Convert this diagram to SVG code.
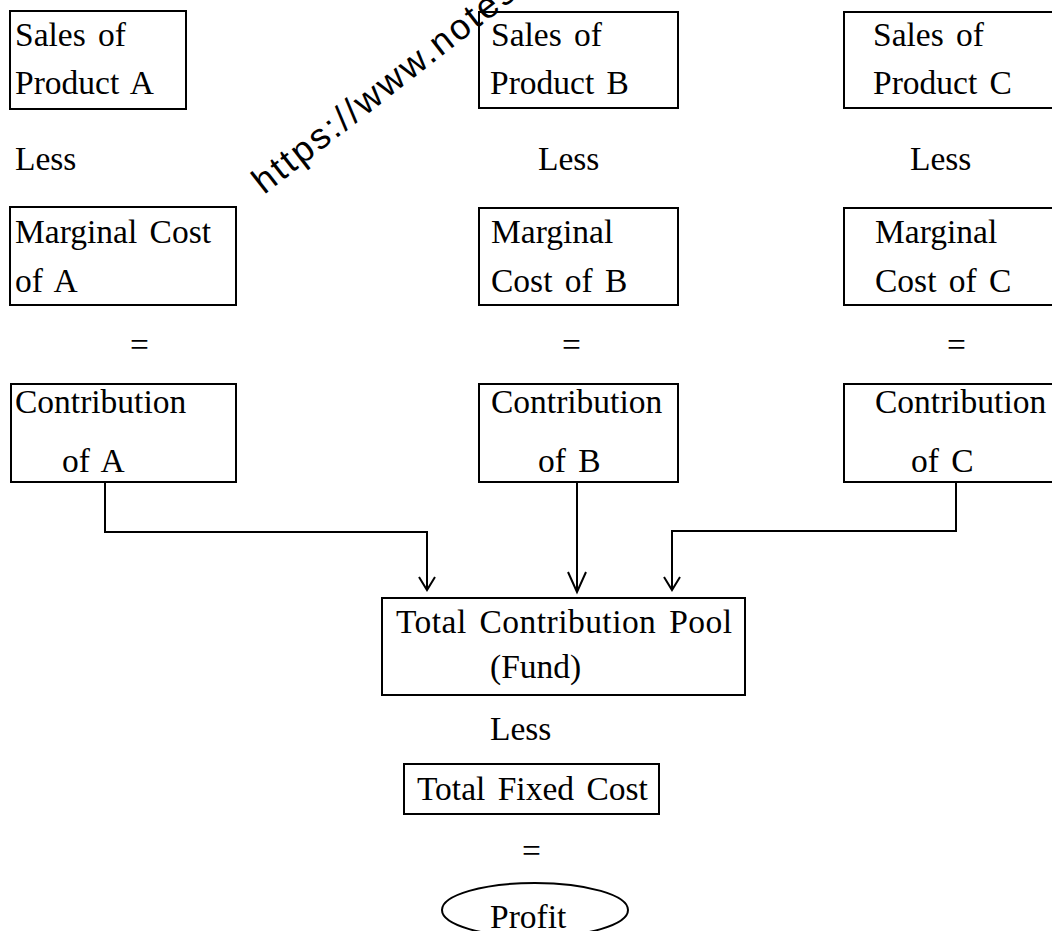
<svg xmlns="http://www.w3.org/2000/svg" width="1052" height="931" viewBox="0 0 1052 931">
<style>
.box{fill:#fff;stroke:#000;stroke-width:2}
.t{font-family:"Liberation Serif","Times New Roman",serif;font-size:33.5px;word-spacing:4px;fill:#000}
.wm{font-family:"Liberation Sans",Arial,sans-serif;font-size:36px;letter-spacing:2.5px;fill:#000}
.c{fill:none;stroke:#000;stroke-width:2}
</style>
<rect width="1052" height="931" fill="#fff"/>
<g id="salesA"><rect class="box" x="10" y="11" width="176" height="98"/><text class="t" x="15" y="46">Sales of</text><text class="t" x="15" y="94">Product A</text></g>
<g id="salesB"><rect class="box" x="479" y="12" width="199" height="96"/><text class="t" x="491" y="46">Sales of</text><text class="t" x="490" y="94">Product B</text></g>
<g id="salesC"><rect class="box" x="844" y="12" width="220" height="96"/><text class="t" x="873" y="46">Sales of</text><text class="t" x="873" y="94">Product C</text></g>
<g id="lessRow"><text class="t" x="15" y="170">Less</text><text class="t" x="538" y="170">Less</text><text class="t" x="910" y="170">Less</text></g>
<g id="mcA"><rect class="box" x="10" y="207" width="226" height="98"/><text class="t" x="15" y="243">Marginal Cost</text><text class="t" x="15" y="292">of A</text></g>
<g id="mcB"><rect class="box" x="479" y="208" width="199" height="97"/><text class="t" x="491" y="243">Marginal</text><text class="t" x="491" y="292">Cost of B</text></g>
<g id="mcC"><rect class="box" x="844" y="208" width="220" height="97"/><text class="t" x="875" y="243">Marginal</text><text class="t" x="875" y="292">Cost of C</text></g>
<g id="eqRow"><text class="t" x="130" y="356">=</text><text class="t" x="562" y="356">=</text><text class="t" x="947" y="356">=</text></g>
<g id="contA"><rect class="box" x="11" y="384" width="225" height="98"/><text class="t" x="15" y="413">Contribution</text><text class="t" x="62" y="472">of A</text></g>
<g id="contB"><rect class="box" x="479" y="384" width="199" height="98"/><text class="t" x="491" y="413">Contribution</text><text class="t" x="538" y="472">of B</text></g>
<g id="contC"><rect class="box" x="844" y="384" width="220" height="98"/><text class="t" x="875" y="413">Contribution</text><text class="t" x="911" y="472">of C</text></g>
<g id="connectors">
<path class="c" d="M105,482 V532 H427 V590"/>
<path class="c" d="M419,577 L427,590 L435,577"/>
<path class="c" d="M577,482 V592"/>
<path class="c" d="M568,572 L577,592 L586,572"/>
<path class="c" d="M956,482 V531 H672 V590"/>
<path class="c" d="M664,577 L672,590 L680,577"/>
</g>
<g id="pool"><rect class="box" x="382" y="598" width="363" height="97"/><text class="t" x="396" y="633" textLength="336" lengthAdjust="spacing">Total Contribution Pool</text><text class="t" x="490" y="678">(Fund)</text></g>
<g id="lessPool"><text class="t" x="490" y="740">Less</text></g>
<g id="fixed"><rect class="box" x="404" y="764" width="255" height="50"/><text class="t" x="417" y="800">Total Fixed Cost</text></g>
<g id="eqFinal"><text class="t" x="522" y="862">=</text></g>
<g id="profit"><ellipse class="box" cx="535" cy="910" rx="93" ry="27"/><text class="t" x="490" y="928">Profit</text></g>
<g id="watermark"><text class="wm" transform="translate(264,195) rotate(-38)">https://www.notes4free.in</text></g>
</svg>
